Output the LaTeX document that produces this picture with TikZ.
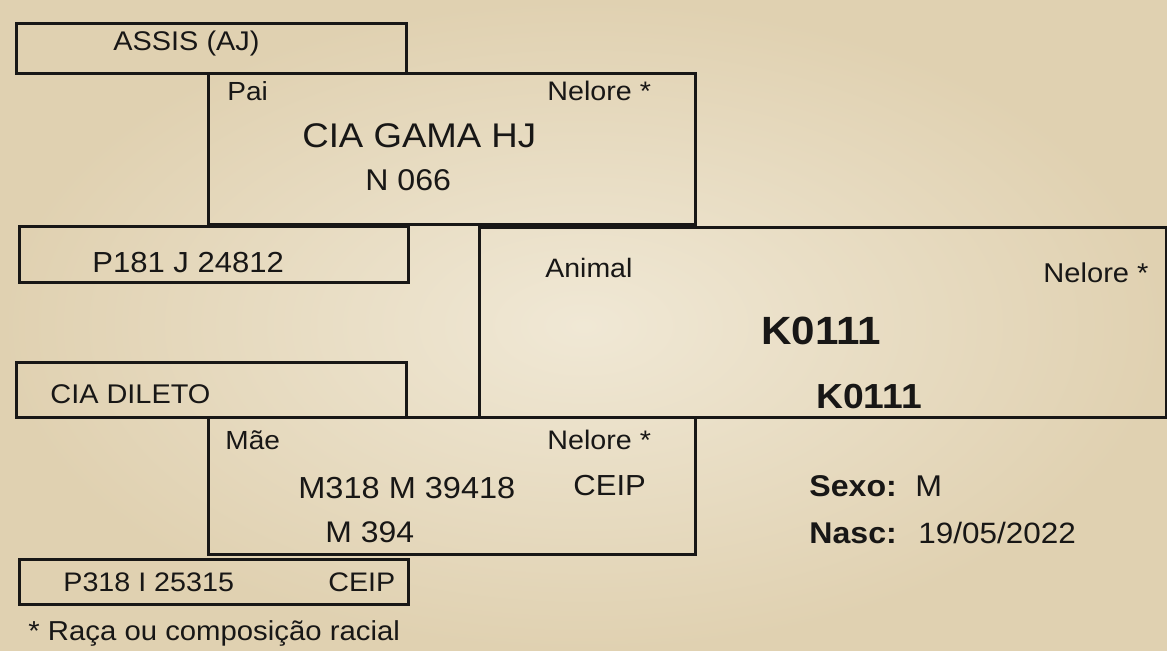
\documentclass[tikz,border=0pt]{standalone}
\usepackage{fontspec}
\setmainfont{Liberation Sans}[FakeStretch=1.07]
\usetikzlibrary{positioning,calc}
\definecolor{inkc}{HTML}{181716}
\definecolor{paperlc}{HTML}{F0E8D5}
\definecolor{paperdc}{HTML}{E0D1B1}
\tikzset{
  box/.style ={draw=inkc,line width=1.4pt,inner sep=0pt,anchor=north west},
  txt/.style ={anchor=base west,inner sep=0pt,text=inkc,
               font=\fontsize{#1}{#1}\selectfont},
  txtb/.style={anchor=base west,inner sep=0pt,text=inkc,
               font=\fontsize{#1}{#1}\selectfont\bfseries},
}

\begin{document}
\begin{tikzpicture}[x=0.5pt,y=-0.5pt]

% ---- paper -----------------------------------------------------------------
\useasboundingbox (0,0) rectangle (1167,651);
\shade[inner color=paperlc,outer color=paperdc] (0,0) rectangle (1167,651);

% ---- boxes -----------------------------------------------------------------
\node[box,minimum width=195pt,minimum height=25pt]   (assis)  at (15,22)   {};
\node[box,minimum width=243.5pt,minimum height=75.5pt] (pai)  at (207,72)  {};
\node[box,minimum width=194.5pt,minimum height=28pt] (avop)   at (18,225)  {};
\node[box,minimum width=343.5pt,minimum height=95pt] (animal) at (478,226) {};
\node[box,minimum width=195pt,minimum height=27.5pt] (dileto) at (15,361)  {};
\node[box,minimum width=243.5pt,minimum height=68.5pt] (mae)  at (207,416) {};
\node[box,minimum width=194.5pt,minimum height=22.5pt] (avom) at (18,558)  {};

% ---- avo paterno -------------------------------------------------------------
\node[txt=13.5pt] (assisN) at (113,51) {ASSIS (AJ)};
\node[txt=14.5pt] (avopR)  at (92,273) {P181 J 24812};

% ---- pai ---------------------------------------------------------------------
\node[txt=13.1pt] (paiL)   at (227,101) {Pai};
\node[txt=13.4pt] (paiRc)  at (547,101) {Nelore *};
\node[txt=17.1pt] (paiN)   at (302,148) {CIA GAMA HJ};
\node[txt=15pt]   (paiR)   at (365,191) {N 066};

% ---- animal ------------------------------------------------------------------
\node[txt=13.3pt] (aniL)   at (545,278)   {Animal};
\node[txt=13.6pt] (aniRc)  at (1043,283)  {Nelore *};
\node[txtb=19.7pt](aniN)   at (761,345)   {K0111};
\node[txtb=17.4pt](aniR)   at (816,409)   {K0111};

\node[txtb=15pt]  (sexoL)  at (809,497) {Sexo:};
\node[txt=15pt]   (sexo)   at (915,497) {M};
\node[txtb=15pt]  (nascL)  at (809,544) {Nasc:};
\node[txt=14.7pt] (nasc)   at (918,544) {19/05/2022};

% ---- mae ---------------------------------------------------------------------
\node[txt=13.5pt] (dileN)  at (50,404)  {CIA DILETO};
\node[txt=13.1pt] (maeL)   at (225,450) {Mãe};
\node[txt=13.4pt] (maeRc)  at (547,450) {Nelore *};
\node[txt=15.2pt] (maeR)   at (298,499) {M318 M 39418};
\node[txt=14.5pt] (maeC)   at (573,496) {CEIP};
\node[txt=14.9pt] (maeN)   at (325,543) {M 394};
\node[txt=13.4pt] (avomR)  at (63,592)  {P318 I 25315};
\node[txt=13.4pt] (avomC)  at (328,592) {CEIP};

\node[txt=13.7pt] (nota)   at (28,640)  {* Raça ou composição racial};

\end{tikzpicture}
\end{document}
